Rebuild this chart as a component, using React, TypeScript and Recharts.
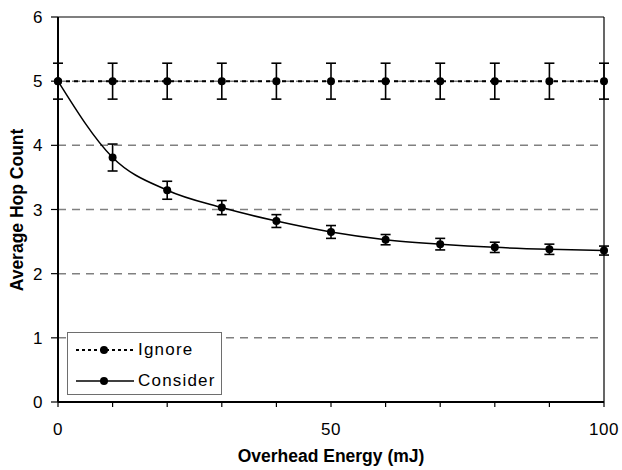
import React from "react";
import { ErrorBar, Label, Legend, Line, LineChart, ReferenceLine, XAxis, YAxis } from "recharts";

const energy = [0, 10, 20, 30, 40, 50, 60, 70, 80, 90, 100];
const ignoreHops = [5, 5, 5, 5, 5, 5, 5, 5, 5, 5, 5];
const ignoreErr = [0.28, 0.28, 0.28, 0.28, 0.28, 0.28, 0.28, 0.28, 0.28, 0.28, 0.28];
const considerHops = [5.0, 3.81, 3.3, 3.03, 2.82, 2.65, 2.53, 2.46, 2.41, 2.38, 2.36];
const considerErr = [0, 0.21, 0.14, 0.11, 0.1, 0.1, 0.08, 0.09, 0.08, 0.08, 0.07];

const xTicks = [0, 10, 20, 30, 40, 50, 60, 70, 80, 90, 100];
const xTickLabels = [0, 50, 100];
const yTicks = [0, 1, 2, 3, 4, 5, 6];
const gridValues = [1, 2, 3, 4, 5];

const FONT = '"Liberation Sans", Arial, sans-serif';

const data = energy.map((e, i) => ({
  energy: e,
  ignore: ignoreHops[i],
  ignoreErr: ignoreErr[i],
  consider: considerHops[i],
  considerErr: considerErr[i],
}));

function LegendBox() {
  const rows = [
    { name: "Ignore", dash: "3 3" },
    { name: "Consider", dash: undefined },
  ];
  return (
    <div
      style={{
        width: 153,
        height: 61,
        border: "1px solid #6e6e6e",
        background: "#fff",
        fontFamily: FONT,
        fontSize: 17,
        letterSpacing: 1.2,
        color: "#000",
        position: "relative",
      }}
    >
      {rows.map((r, i) => (
        <div
          key={r.name}
          style={{ position: "absolute", left: 7, top: 5 + i * 31, height: 24, display: "flex", alignItems: "center" }}
        >
          <svg width={60} height={24} style={{ display: "block" }}>
            <line x1={1} y1={12} x2={59} y2={12} stroke="#000" strokeWidth={r.dash ? 2 : 1.5} strokeDasharray={r.dash} />
            <circle cx={29} cy={12} r={4} fill="#000" />
          </svg>
          <span style={{ marginLeft: 3 }}>{r.name}</span>
        </div>
      ))}
    </div>
  );
}

export default function App() {
  return (
    <div style={{ position: "absolute", left: 0, top: 0, width: 622, height: 470, background: "#fff" }}>
      <LineChart width={622} height={470} data={data} margin={{ top: 17, right: 18, left: 0, bottom: 0 }}>
        {gridValues.map((v) => (
          <ReferenceLine key={v} y={v} stroke="#808080" strokeWidth={1.5} strokeDasharray="8 6" />
        ))}
        <ReferenceLine y={6} stroke="#000" strokeWidth={1.2} />
        <ReferenceLine x={100} stroke="#000" strokeWidth={1.2} />
        <XAxis
          dataKey="energy"
          type="number"
          domain={[0, 100]}
          ticks={xTicks}
          interval={0}
          height={68}
          tickSize={5}
          tickMargin={16}
          axisLine={{ stroke: "#000", strokeWidth: 2 }}
          tickLine={{ stroke: "#000", strokeWidth: 1.2 }}
          tick={{ fill: "#000", fontSize: 17, fontFamily: FONT, letterSpacing: 0.6 }}
          tickFormatter={(v: number) => (xTickLabels.includes(v) ? String(v) : "")}
        >
          <Label
            content={() => (
              <text x={331} y={462} textAnchor="middle" fontFamily={FONT} fontSize={17.5} fontWeight="bold" fill="#000">
                Overhead Energy (mJ)
              </text>
            )}
          />
        </XAxis>
        <YAxis
          type="number"
          domain={[0, 6]}
          ticks={yTicks}
          interval={0}
          width={58}
          tickSize={7}
          tickMargin={8}
          axisLine={{ stroke: "#000", strokeWidth: 2 }}
          tickLine={{ stroke: "#000", strokeWidth: 1.2 }}
          tick={{ fill: "#000", fontSize: 17, fontFamily: FONT, letterSpacing: 0.6 }}
        >
          <Label
            content={() => (
              <text
                x={23}
                y={210}
                transform="rotate(-90 23 210)"
                textAnchor="middle"
                fontFamily={FONT}
                fontSize={17.5}
                fontWeight="bold"
                fill="#000"
              >
                Average Hop Count
              </text>
            )}
          />
        </YAxis>
        <Legend
          layout="horizontal"
          align="center"
          verticalAlign="middle"
          wrapperStyle={{ position: "absolute", left: 67, top: 332, width: 155, height: 63 }}
          content={() => <LegendBox />}
        />
        <Line
          type="linear"
          dataKey="ignore"
          name="Ignore"
          stroke="#000"
          strokeWidth={2}
          strokeDasharray="4 4"
          dot={{ r: 4, fill: "#000", stroke: "#000", strokeWidth: 0 }}
          activeDot={false}
          isAnimationActive={false}
        >
          <ErrorBar dataKey="ignoreErr" width={5} stroke="#000" strokeWidth={1.6} direction="y" isAnimationActive={false} />
        </Line>
        <Line
          type="monotone"
          dataKey="consider"
          name="Consider"
          stroke="#000"
          strokeWidth={1.5}
          dot={{ r: 4, fill: "#000", stroke: "#000", strokeWidth: 0 }}
          activeDot={false}
          isAnimationActive={false}
        >
          <ErrorBar dataKey="considerErr" width={5} stroke="#000" strokeWidth={1.6} direction="y" isAnimationActive={false} />
        </Line>
      </LineChart>
    </div>
  );
}
